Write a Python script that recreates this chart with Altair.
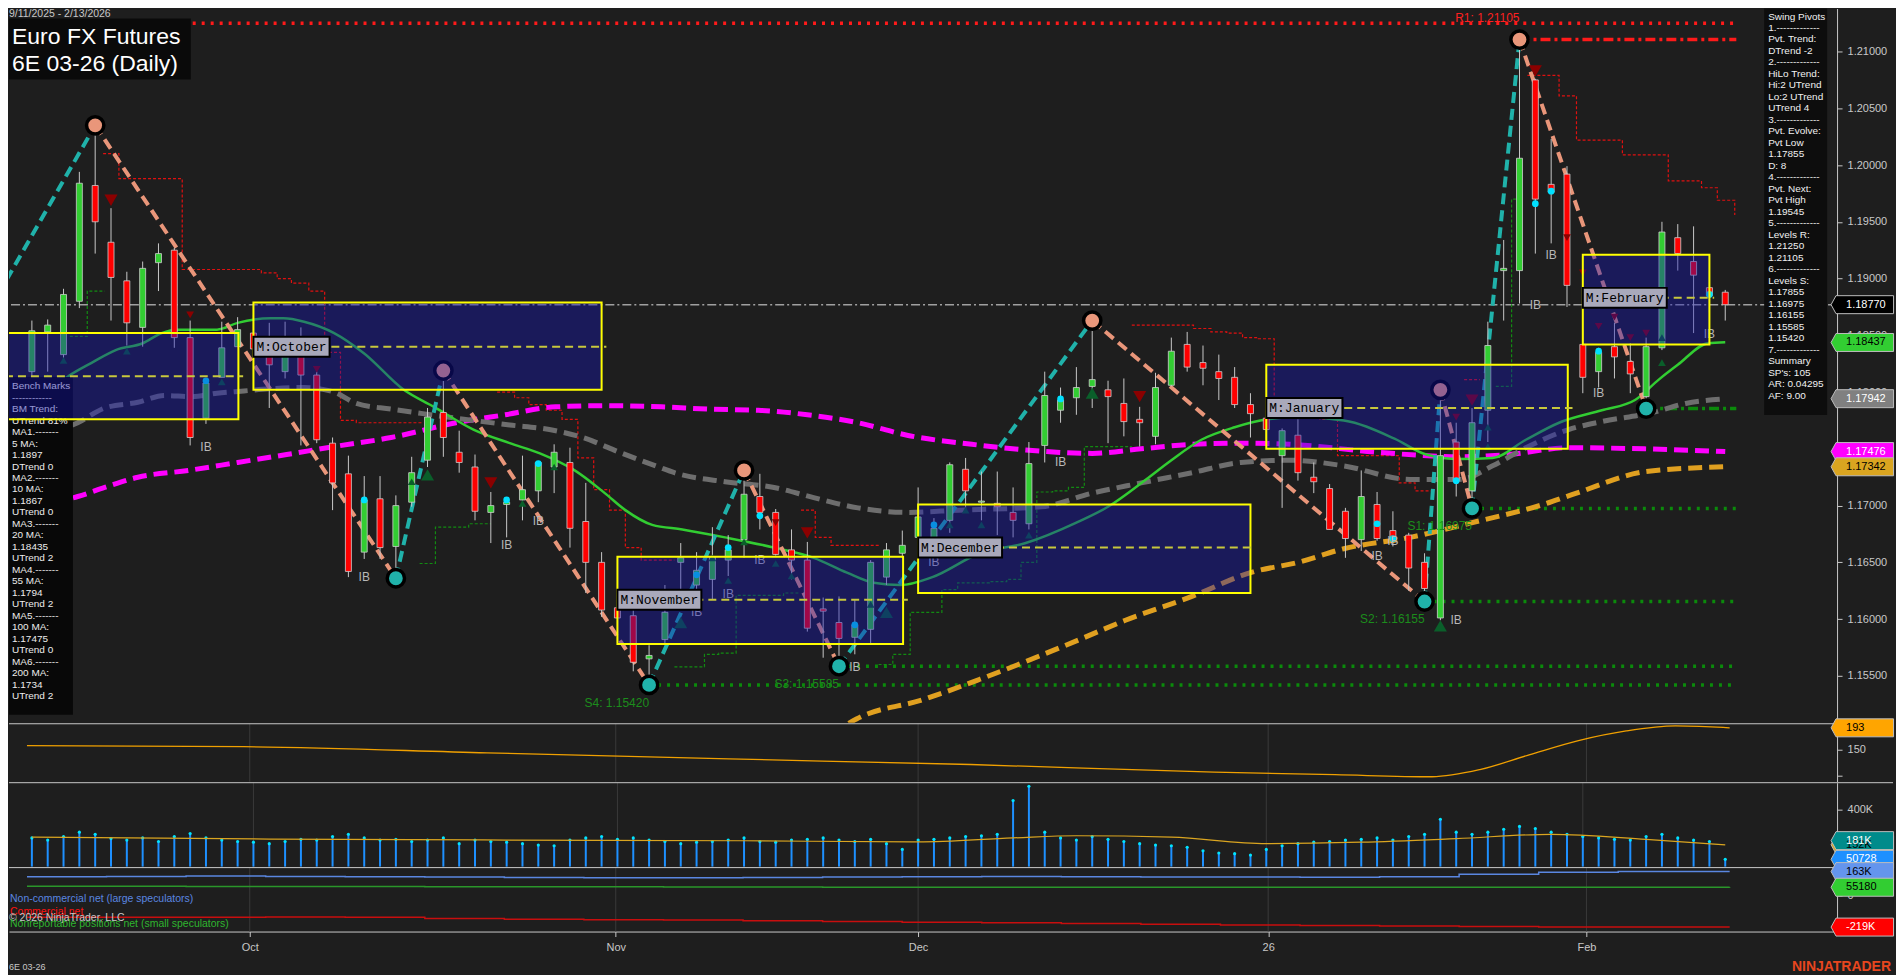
import altair as alt
import pandas as pd

FONT = "Liberation Sans"
BG = "#1e1e1e"

# ---------------- daily candles, 9/11/2025 .. 2/13/2026 ----------------
OPEN = [1.1818,1.1853,1.1833,1.1880,1.1982,1.1932,1.1898,1.1857,1.1914,1.1925,
        1.1848,1.1777,1.1813,1.1840,1.1852,1.1835,1.1818,1.1833,1.1815,1.1755,
        1.1728,1.1659,1.1706,1.1664,1.1703,1.1740,1.1782,1.1747,1.1734,1.1694,
        1.1701,1.1705,1.1713,1.1734,1.1738,1.1686,1.1650,1.1610,1.1603,1.1565,
        1.1582,1.1650,1.1630,1.1635,1.1652,1.1670,1.1708,1.1694,1.1661,1.1652,
        1.1609,1.1597,1.1584,1.1591,1.1637,1.1658,1.1672,1.1670,1.1687,1.1732,
        1.1703,1.1702,1.1694,1.1684,1.1753,1.1784,1.1795,1.1805,1.1802,1.1790,
        1.1776,1.1761,1.1806,1.1842,1.1826,1.1818,1.1813,1.1789,1.1777,1.1744,
        1.1762,1.1725,1.1715,1.1695,1.1670,1.1701,1.1678,1.1674,1.1650,1.1601,
        1.1756,1.1713,1.1784,1.1907,1.1907,1.2075,1.1983,1.1992,1.1842,1.1818,
        1.1840,1.1827,1.1796,1.1839,1.1936,1.1915,1.1892,1.1888]
HIGH = [1.1863,1.1864,1.1891,1.1994,1.2035,1.1962,1.1906,1.1915,1.1931,1.1927,
        1.1863,1.1811,1.1862,1.1866,1.1868,1.1861,1.1862,1.1857,1.1818,1.1760,
        1.1744,1.1726,1.1726,1.1709,1.1743,1.1786,1.1819,1.1766,1.1745,1.1712,
        1.1707,1.1744,1.1738,1.1754,1.1751,1.1720,1.1659,1.1622,1.1617,1.1577,
        1.1630,1.1667,1.1659,1.1681,1.1674,1.1731,1.1728,1.1697,1.1679,1.1668,
        1.1619,1.1620,1.1617,1.1652,1.1667,1.1678,1.1716,1.1689,1.1738,1.1742,
        1.1730,1.1730,1.1716,1.1756,1.1818,1.1804,1.1822,1.1863,1.1810,1.1812,
        1.1787,1.1817,1.1848,1.1853,1.1841,1.1833,1.1822,1.1799,1.1784,1.1768,
        1.1776,1.1738,1.1719,1.1698,1.1731,1.1712,1.1695,1.1676,1.1658,1.1802,
        1.1773,1.1786,1.1862,1.1934,1.21105,1.2076,1.2023,1.1999,1.1855,1.1839,
        1.1861,1.1843,1.1848,1.1950,1.1948,1.1946,1.1907,1.1890]
LOW = [1.1813,1.1818,1.1826,1.1874,1.1922,1.1863,1.1841,1.1840,1.1889,1.1839,
       1.1753,1.1772,1.1813,1.1840,1.1830,1.1786,1.1812,1.1753,1.1755,1.1696,
       1.1637,1.1653,1.1653,1.1636,1.1699,1.1734,1.1743,1.1729,1.1687,1.1667,
       1.1672,1.1687,1.1703,1.1711,1.1663,1.1623,1.1602,1.1580,1.1554,1.1542,
       1.1579,1.1620,1.1617,1.1617,1.1638,1.1654,1.1679,1.1656,1.1635,1.1589,
       1.1566,1.15585,1.1569,1.1579,1.1630,1.1654,1.1664,1.1658,1.1676,1.1694,
       1.1687,1.1674,1.1672,1.1679,1.1738,1.1773,1.1780,1.1786,1.1755,1.1761,
       1.1752,1.1754,1.1805,1.1818,1.1806,1.1793,1.1786,1.1760,1.1758,1.1698,
       1.1722,1.1711,1.1679,1.1654,1.1660,1.1669,1.1664,1.1625,1.16155,1.1599,
       1.1708,1.16975,1.1756,1.1863,1.1878,1.1922,1.1931,1.1875,1.1799,1.1804,
       1.1812,1.1799,1.17855,1.1837,1.1907,1.1852,1.1870,1.1863]
CLOSE = [1.1854,1.1859,1.1886,1.1984,1.1950,1.1901,1.1861,1.1909,1.1922,1.1848,
         1.1760,1.1808,1.1839,1.1855,1.1838,1.1824,1.1833,1.1815,1.1758,1.1720,
         1.1642,1.1705,1.1663,1.1700,1.1729,1.1778,1.1760,1.1738,1.1695,1.1700,
         1.1703,1.1714,1.1738,1.1747,1.1680,1.1650,1.1608,1.1601,1.1562,1.1568,
         1.1606,1.1654,1.1643,1.1655,1.1661,1.1710,1.1694,1.1657,1.1652,1.1592,
         1.1607,1.1583,1.1595,1.1650,1.1661,1.1665,1.1690,1.1680,1.1736,1.1713,
         1.1704,1.1699,1.1687,1.1737,1.1797,1.1793,1.1804,1.1811,1.1796,1.1774,
         1.1773,1.1804,1.1836,1.1822,1.1821,1.1812,1.1789,1.1781,1.1767,1.1766,
         1.1729,1.1721,1.1679,1.1671,1.1708,1.1671,1.1671,1.1645,1.1627,1.1744,
         1.1722,1.1773,1.1841,1.1909,1.2006,1.1970,1.1976,1.1894,1.1813,1.1835,
         1.1831,1.1816,1.1840,1.1941,1.1922,1.1903,1.1885,1.1877]

MONTH_TICKS = [14, 37, 56, 78, 98]
MONTH_LABELS = ["Oct", "Nov", "Dec", "26", "Feb"]

# ---------------- moving averages (read at sample bars) ----------------
MA20_I = [0,1,2.3,3.8,5.3,7.0,8.2,9.2,11.7,13.0,15.1,15.9,17.2,19.1,21.0,23.5,25.4,27.9,30.2,32.1,34.3,36.2,
          37.5,39.2,41.1,43.8,46.9,49.4,51.5,53.2,54.9,56.9,59.9,62.8,66.0,68.0,70.4,72.0,73.9,76.0,78.1,80.0,
          82.9,86.1,88.1,90.2,92.3,94.4,96.5,99.2,101.3,102.8,104.0,105.9,107.0]
MA20_P = [1.1790,1.1800,1.1814,1.1826,1.1837,1.1843,1.1852,1.1855,1.1855,1.1861,1.1865,1.1865,1.1862,1.1852,1.1834,
          1.1802,1.1787,1.1767,1.1755,1.1746,1.1731,1.1711,1.1696,1.1683,1.1679,1.1672,1.1663,1.1654,1.1641,1.1632,
          1.1630,1.1637,1.1658,1.1667,1.1685,1.1699,1.1723,1.1740,1.1758,1.1769,1.1776,1.1778,1.1775,1.1759,1.1745,
          1.1741,1.1742,1.1758,1.1773,1.1784,1.1793,1.1811,1.1824,1.1843,1.1844]
MA55_I = [0,2.9,4.6,6.7,8.4,10.1,11.7,13.4,15.1,17.2,19.1,20.5,22.7,24.7,27.9,30.2,32.7,34.8,37.3,39.6,40.6,43.8,
          46.9,49.4,52.2,55.3,58.6,63.8,67.0,70.1,73.3,76.4,79.5,82.9,87.1,90.2,92.3,94.4,97.1,99.2,102.4,104.5,107.0]
MA55_P = [1.1760,1.1773,1.1786,1.1791,1.1797,1.1796,1.1799,1.1801,1.1803,1.1804,1.1800,1.1790,1.1785,1.1781,1.1775,
          1.1771,1.1767,1.1760,1.1746,1.1734,1.1729,1.1721,1.1716,1.1707,1.1698,1.1694,1.1696,1.1699,1.1711,1.1720,
          1.1729,1.1738,1.1740,1.1735,1.1723,1.1723,1.1735,1.1751,1.1767,1.1774,1.1782,1.1790,1.1794]
MA100_I = [0,2.9,4.6,6.7,9.9,13.0,16.1,19.1,22.7,26.8,29.9,33.1,36.2,39.8,42.7,45.9,49.0,52.2,55.3,59.4,62.8,67.0,
           70.1,73.3,76.4,79.5,85.0,90.2,93.3,97.1,101.9,107.0]
MA100_P = [1.1700,1.1708,1.1716,1.1725,1.1731,1.1738,1.1745,1.1752,1.1760,1.1773,1.1780,1.1787,1.1788,1.1787,1.1785,
           1.1784,1.1780,1.1773,1.1762,1.1754,1.1749,1.1746,1.1750,1.1754,1.1755,1.1754,1.1747,1.1743,1.1745,1.1751,
           1.1750,1.17476]
MA200_I = [50.5,52.1,56.3,59.9,66.2,69.1,73.3,77.0,80.0,82.9,87.1,91.3,95.5,97.6,102.0,107.0]
MA200_P = [1.1498,1.1512,1.1529,1.1547,1.1582,1.1599,1.1620,1.1641,1.1650,1.1662,1.1672,1.1686,1.1701,1.1711,1.1730,1.17342]

# ---------------- swing pivots ----------------
PIVOT_I = [-1.6, 4, 23, 26, 39, 45, 51, 67, 88, 89, 91, 94, 102]
PIVOT_P = [1.1899, 1.2035, 1.1636, 1.1819, 1.1542, 1.1731, 1.15585, 1.1863, 1.16155, 1.1802, 1.16975, 1.21105, 1.17855]

LEVEL_P = [1.2125, 1.21105, 1.17855, 1.16975, 1.16155, 1.15585, 1.15420]
LEVEL_FROM = [-1.2, 94, 102, 91, 88, 51, 39]
LEVEL_KIND = ["Rdot", "Rdash", "Sdash", "Sdot", "Sdot", "Sdot", "Sdot"]
S_LABEL = ["S1: 1.16975", "S2: 1.16155", "S3: 1.15585", "S4: 1.15420"]
S_LABEL_I = [91, 88, 51, 39]
S_LABEL_P = [1.16975, 1.16155, 1.15585, 1.15420]
LAST_PRICE = 1.1877

RED_TRAIL_SEG = [0]*11 + [1]*11 + [2]*4 + [3]*12 + [4]*2 + [5]*8
RED_TRAIL_I = [4.5,5.5,9.5,14.5,15.5,16.4,17.5,18.5,19.5,20.5,24.7,
               29.4,30.5,31.4,32.5,33.5,34.5,35.5,36.5,37.5,38.5,40.6,
               48.6,49.5,50.5,53.6,
               69.5,73.4,74.5,75.5,76.5,77.5,78.5,81.4,82.5,86.4,87.4,88.4,
               90.5,91.5,
               94.5,96.5,97.6,100.5,103.4,105.5,106.5,107.6]
RED_TRAIL_P = [1.2010,1.1988,1.1908,1.1905,1.1900,1.1896,1.1889,1.1835,1.1775,1.1773,1.1773,
               1.1800,1.1795,1.1789,1.1784,1.1776,1.1742,1.1714,1.1696,1.1663,1.1652,1.1652,
               1.1696,1.1672,1.1665,1.1665,
               1.1859,1.1856,1.1853,1.1852,1.1848,1.1847,1.1790,1.1776,1.1744,1.1720,1.1713,1.1713,
               1.1811,1.1811,
               1.2079,1.2061,1.2022,1.2009,1.1986,1.1980,1.1969,1.1956]
GREEN_TRAIL_SEG = [0]*3 + [1]*5 + [2]*7 + [3]*13 + [4]*3
GREEN_TRAIL_I = [2.4,3.5,4.6,
                 24.5,25.5,26.5,27.6,29.0,
                 40.6,42.5,43.4,44.5,45.4,47.5,48.5,
                 53.5,54.4,55.5,57.5,58.5,60.5,61.6,62.5,63.5,64.5,65.5,66.5,69.5,
                 92.5,93.5,94.1]
GREEN_TRAIL_P = [1.1849,1.1889,1.1889,
                 1.1649,1.1681,1.1681,1.1684,1.1684,
                 1.1558,1.1569,1.1570,1.1621,1.1621,1.1623,1.1623,
                 1.1560,1.1569,1.1606,1.1626,1.1632,1.1633,1.1635,1.1650,1.1712,1.1713,1.1716,1.1752,1.1752,
                 1.1805,1.1970,1.1970]

TRI_DN_I = [5,10,18,29,47,49,70,89,90,91,95,97,98,99,100,101,102]
TRI_DN_P = [1.1969,1.1868,1.1820,1.1720,1.1685,1.1676,1.1796,1.1805,1.1778,1.1793,1.2083,1.1936,1.1905,1.1858,1.1866,1.1848,1.1852]
TRI_DN_BIG = [1,0,0,1,0,1,1,0,0,1,1,0,0,0,0,0,0]
TRI_UP_I = [1,2,6,12,24,25,31,33,41,43,44,45,47,48,53,54,58,59,60,63,67,89,92,92,103,103]
TRI_UP_P = [1.1813,1.1828,1.1836,1.1809,1.1721,1.1727,1.1702,1.1734,1.1597,1.1654,1.1634,1.1668,1.1649,
            1.1638,1.1613,1.1606,1.1683,1.1696,1.1683,1.1674,1.1799,1.1594,1.1769,1.1752,1.1848,1.1826]
TRI_UP_BIG = [0,0,0,0,0,1,0,0,1,0,0,0,0,0,0,1,0,0,0,0,1,1,0,0,0,0]
IB_I = [11,21,30,32,42,44,46,52,57,65,85,86,90,95,96,99,106]
IB_P = [1.1752,1.1637,1.1665,1.1686,1.1606,1.1622,1.1652,1.1558,1.1650,1.1738,1.1656,1.1669,1.1599,1.1877,1.1921,1.1799,1.1851]
CYAN_I = [11,21,30,32,42,44,46,52,57,65,85,86,90,95,96,99,106]
CYAN_P = [1.1810,1.1705,1.1705,1.1737,1.1639,1.1663,1.1691,1.1595,1.1683,1.1794,1.1684,1.1671,1.1722,1.1966,1.1977,1.1836,1.1886]

# monthly range boxes
BOX_NAME = ["", "M:October", "M:November", "M:December", "M:January", "M:February"]
BOX_START = [-1.7, 14, 37, 56, 78, 98]
BOX_END = [13.05, 36, 55.05, 77, 97.05, 106]
BOX_HI = [1.1852, 1.1879, 1.1655, 1.1701, 1.1824, 1.1921]
BOX_LO = [1.1776, 1.1802, 1.1578, 1.1623, 1.1750, 1.1842]
BOX_MID = [1.1814, 1.1840, 1.1617, 1.1663, 1.1786, 1.1883]

BENCH_LINES = ["Bench Marks", "------------", "BM Trend:", "UTrend 81%", "MA1.-------", "5 MA:", "1.1897",
               "DTrend 0", "MA2.-------", "10 MA:", "1.1867", "UTrend 0", "MA3.-------", "20 MA:", "1.18435",
               "UTrend 2", "MA4.-------", "55 MA:", "1.1794", "UTrend 2", "MA5.-------", "100 MA:", "1.17475",
               "UTrend 0", "MA6.-------", "200 MA:", "1.1734", "UTrend 2"]
SWING_LINES = ["Swing Pivots", "1.-------------", "Pvt. Trend:", "DTrend -2", "2.-------------", "HiLo Trend:",
               "Hi:2 UTrend", "Lo:2 UTrend", "UTrend 4", "3.-------------", "Pvt. Evolve:", "Pvt Low", "1.17855",
               "D: 8", "4.-------------", "Pvt. Next:", "Pvt High", "1.19545", "5.-------------", "Levels R:",
               "1.21250", "1.21105", "6.-------------", "Levels S:", "1.17855", "1.16975", "1.16155", "1.15585",
               "1.15420", "7.-------------", "Summary", "SP's: 105", "AR: 0.04295", "AF: 9.00"]

PRICE_TAG_V = [1.18770, 1.18437, 1.17942, 1.17476, 1.17342]
PRICE_TAG_T = ["1.18770", "1.18437", "1.17942", "1.17476", "1.17342"]
PRICE_TAG_BG = ["#000000", "#32cd32", "#808080", "#ff00ff", "#daa520"]
PRICE_TAG_FG = ["#ffffff", "#000000", "#ffffff", "#ffffff", "#000000"]

# ---------------- lower panels ----------------
OSC_I = [0, 13.6, 28.9, 44.1, 59.3, 74.6, 82.2, 88.3, 91.3, 94.4, 97.5, 100.5, 103.6, 106.6, 107]
OSC_V = [158, 156, 144, 132, 121, 106, 101, 97, 111, 140, 168, 187, 197, 194, 193]

VOLUME_K = [200,185,210,240,225,195,185,200,175,210,230,200,185,175,
            170,160,175,190,185,210,225,200,185,190,175,185,200,160,185,175,170,160,150,145,185,200,210,
            190,200,185,175,160,170,175,185,200,175,170,185,190,200,185,175,190,160,120,
            185,190,200,210,215,225,460,560,240,200,185,210,190,175,160,150,145,135,110,95,90,80,
            120,145,160,170,175,185,190,200,185,210,225,330,240,225,240,260,280,265,240,225,
            210,200,190,185,210,225,200,185,175,50.728]
VMA_I = [0, 15, 30, 45, 56, 62, 66, 72, 78, 84, 90, 96, 102, 107]
VMA_K = [205, 192, 185, 180, 172, 200, 215, 205, 160, 170, 195, 225, 190, 152]

COT_I = [0,5,10,15,20,25,30,35,40,45,50,55,60,65,70,75,80,85,90,95,100,107]
COT_NONCOMM_K = [128,130,132,130,127,125,122,120,120,122,125,128,130,128,126,125,124,128,145,158,163,163]
COT_NONREP_K = [62,62,61,60,60,59,58,58,57,57,56,56,56,55,55,55,55,55,55,55,55,55.18]
COT_COMM_K = [-151,-151,-152,-150,-152,-160,-165,-168,-170,-175,-180,-185,-190,-195,-200,-205,-208,-212,-215,-218,-219,-219]

# ======================================================================
W = 1830
H1, H2, H3, H4 = 715, 58, 84, 64
XS = alt.Scale(domain=[-1.13, 113.75], nice=False, zero=False)
AXC = "#c8c8c8"


def X(f="i"):
    return alt.X(f + ":Q", scale=XS, axis=None)


PSC = alt.Scale(domain=[1.15087, 1.21379], nice=False, zero=False)
PAX = alt.Axis(orient="right", values=[round(1.155 + 0.005 * k, 3) for k in range(12)], format=".5f",
               domainColor=AXC, tickColor=AXC, labelColor=AXC, labelFont=FONT, labelFontSize=11,
               tickSize=5, labelPadding=5, grid=False, title=None, labelOverlap=False)


def PY(f):
    return alt.Y(f + ":Q", scale=PSC, axis=PAX)


def one():
    return pd.DataFrame({"k": [0]})


TAG_PATH = "M0,0L0.55,-1L6.95,-1L6.95,1L0.55,1Z"


def tag_layers(df, yenc):
    pt = alt.Chart(df).mark_point(shape=TAG_PATH, size=324, filled=True, opacity=1, stroke="#bdbdbd",
                                  strokeWidth=1).encode(x=alt.value(1824), y=yenc, fill=alt.Fill("bg:N", scale=None))
    tx = alt.Chart(df).mark_text(align="left", baseline="middle", font=FONT, fontSize=11).encode(
        x=alt.value(1839), y=yenc, text="t:N", color=alt.Color("fg:N", scale=None))
    return [pt, tx]


# ---------------- price panel ----------------
N = len(OPEN)
cdf = pd.DataFrame({"i": list(range(N)), "o": OPEN, "h": HIGH, "l": LOW, "c": CLOSE})

lev = pd.DataFrame({"p": LEVEL_P, "s": LEVEL_FROM, "kind": LEVEL_KIND})
lev["e"] = 107.7
lev_layers = []
styles = {"Rdot": ("#ff1a1a", [3, 6]), "Rdash": ("#ff1a1a", [10, 4, 3, 4]),
          "Sdot": ("#0b8a0b", [3, 6]), "Sdash": ("#0b8a0b", [10, 4, 3, 4])}
for kind, (col, dash) in styles.items():
    lev_layers.append(alt.Chart(lev[lev.kind == kind]).mark_rule(color=col, strokeDash=dash, strokeWidth=3.5,
                                                                  clip=True).encode(x=X("s"), x2="e", y=PY("p")))
last_line = alt.Chart(pd.DataFrame({"p": [LAST_PRICE]})).mark_rule(
    color="#a0a0a0", strokeDash=[9, 3, 2, 3], strokeWidth=1.5).encode(y=PY("p"))

rt = pd.DataFrame({"seg": RED_TRAIL_SEG, "i": RED_TRAIL_I, "p": RED_TRAIL_P})
red_trail = alt.Chart(rt).mark_line(interpolate="step-after", color="#e01010", strokeDash=[3, 2],
                                    strokeWidth=1.2, clip=True).encode(x=X(), y=PY("p"), detail="seg:N")
gt = pd.DataFrame({"seg": GREEN_TRAIL_SEG, "i": GREEN_TRAIL_I, "p": GREEN_TRAIL_P})
green_trail = alt.Chart(gt).mark_line(interpolate="step-after", color="#128a12", strokeDash=[3, 2],
                                      strokeWidth=1.2, clip=True).encode(x=X(), y=PY("p"), detail="seg:N")


def ma(iv, pv, color, width, dash=None):
    d = pd.DataFrame({"i": iv, "p": pv})
    kw = dict(color=color, strokeWidth=width, interpolate="monotone", clip=True)
    if dash:
        kw["strokeDash"] = dash
    return alt.Chart(d).mark_line(**kw).encode(x=X(), y=PY("p"))


ma200 = ma(MA200_I, MA200_P, "#e0a020", 5, [14, 7])
ma100 = ma(MA100_I, MA100_P, "#ff00ff", 5, [14, 7])
ma55 = ma(MA55_I, MA55_P, "#6e6e6e", 5, [14, 7])
ma20 = ma(MA20_I, MA20_P, "#32cd32", 2.5)

zz_rows = []
for k in range(len(PIVOT_I) - 1):
    col = "#20b2aa" if PIVOT_P[k + 1] > PIVOT_P[k] else "#e9967a"
    zz_rows.append({"seg": k, "i": PIVOT_I[k], "p": PIVOT_P[k], "col": col})
    zz_rows.append({"seg": k, "i": PIVOT_I[k + 1], "p": PIVOT_P[k + 1], "col": col})
zz = alt.Chart(pd.DataFrame(zz_rows)).mark_line(strokeDash=[11, 6], strokeWidth=4, clip=True).encode(
    x=X(), y=PY("p"), detail="seg:N", color=alt.Color("col:N", scale=None))

wick = alt.Chart(cdf).mark_rule(color="#c8c8c8", strokeWidth=1).encode(x=X(), y=PY("l"), y2="h")
body = alt.Chart(cdf).mark_bar(size=6, stroke="#cfcfcf", strokeWidth=0.8).encode(
    x=X(), y=PY("o"), y2="c",
    color=alt.condition("datum.c >= datum.o", alt.value("#32cd32"), alt.value("#ff0000")))

tdn = pd.DataFrame({"i": TRI_DN_I, "p": TRI_DN_P, "b": TRI_DN_BIG})
tdn["sz"] = tdn.b * 110 + 60
tri_dn = alt.Chart(tdn).mark_point(shape="triangle-down", filled=True, opacity=1, color="#8b0000").encode(
    x=X(), y=PY("p"), size=alt.Size("sz:Q", scale=None))
tup = pd.DataFrame({"i": TRI_UP_I, "p": TRI_UP_P, "b": TRI_UP_BIG})
tup["sz"] = tup.b * 110 + 60
tri_up = alt.Chart(tup).mark_point(shape="triangle-up", filled=True, opacity=1, color="#0a5f2a").encode(
    x=X(), y=PY("p"), size=alt.Size("sz:Q", scale=None))
cyan = alt.Chart(pd.DataFrame({"i": CYAN_I, "p": CYAN_P})).mark_circle(size=45, color="#00e0ff", opacity=1).encode(
    x=X(), y=PY("p"))
ib = alt.Chart(pd.DataFrame({"i": IB_I, "p": IB_P})).mark_text(
    text="IB", font=FONT, fontSize=12, color="#b8b8b8", baseline="middle").encode(x=X(), y=PY("p"))

pv = pd.DataFrame({"i": PIVOT_I[1:], "p": PIVOT_P[1:]})
pv["col"] = ["#e9967a" if k % 2 == 1 else "#20b2aa" for k in range(1, len(PIVOT_I))]
pivots = alt.Chart(pv).mark_point(shape="circle", filled=True, opacity=1, size=300, stroke="#000000",
                                  strokeWidth=3.5).encode(x=X(), y=PY("p"), fill=alt.Fill("col:N", scale=None))

bench_rect = alt.Chart(one()).mark_rect(color="#080808").encode(
    x=alt.value(0), x2=alt.value(64), y=alt.value(369), y2=alt.value(707))
bench_text = alt.Chart(one()).mark_text(align="left", baseline="top", font=FONT, fontSize=10, lineHeight=11.5,
                                        color="#ececec").encode(
    x=alt.value(3), y=alt.value(373), text=alt.value(BENCH_LINES))

bx = pd.DataFrame({"name": BOX_NAME, "s": BOX_START, "e": BOX_END, "hi": BOX_HI, "lo": BOX_LO, "mid": BOX_MID})
bx["e2"] = bx.e + 0.3
bx["el"] = bx.s + (bx.name.str.len() * 7.85 + 6) / 15.93
box_fill = alt.Chart(bx).mark_rect(color="#1414b4", opacity=0.4, clip=True).encode(
    x=X("s"), x2="e", y=PY("hi"), y2="lo")
box_border = alt.Chart(bx).mark_rect(fillOpacity=0, stroke="#ffff00", strokeWidth=2, clip=True).encode(
    x=X("s"), x2="e", y=PY("hi"), y2="lo")
box_mid = alt.Chart(bx).mark_rule(color="#c8c83c", strokeDash=[8, 5], strokeWidth=2, clip=True).encode(
    x=X("s"), x2="e2", y=PY("mid"))
bl = bx[bx.name != ""]
box_lab_rect = alt.Chart(bl).mark_rect(color="#a9a9bb", stroke="#000000", strokeWidth=2, yOffset=-10,
                                       y2Offset=10).encode(x=X("s"), x2="el", y=PY("mid"), y2="mid")
box_lab_text = alt.Chart(bl).mark_text(align="left", baseline="middle", font="Liberation Mono", fontSize=13,
                                       color="#000000", dx=3).encode(x=X("s"), y=PY("mid"), text="name:N")

sl = pd.DataFrame({"t": S_LABEL, "i": S_LABEL_I, "p": S_LABEL_P})
s_labels = alt.Chart(sl).mark_text(align="right", baseline="middle", font=FONT, fontSize=12, color="#1c8c1c",
                                   dy=18).encode(x=X(), y=PY("p"), text="t:N")
r_label = alt.Chart(pd.DataFrame({"t": ["R1: 1.21105"], "i": [94], "p": [1.21105]})).mark_text(
    align="right", baseline="middle", font=FONT, fontSize=12, color="#ff2020", dy=-22).encode(
    x=X(), y=PY("p"), text="t:N")

title_rect = alt.Chart(one()).mark_rect(color="#0a0a0a").encode(
    x=alt.value(0), x2=alt.value(182), y=alt.value(10), y2=alt.value(71))
title1 = alt.Chart(one()).mark_text(align="left", baseline="alphabetic", font=FONT, fontSize=23,
                                    color="#ffffff").encode(x=alt.value(3), y=alt.value(36),
                                                            text=alt.value("Euro FX Futures"))
title2 = alt.Chart(one()).mark_text(align="left", baseline="alphabetic", font=FONT, fontSize=23,
                                    color="#ffffff").encode(x=alt.value(3), y=alt.value(62.5),
                                                            text=alt.value("6E 03-26 (Daily)"))
date_text = alt.Chart(one()).mark_text(align="left", baseline="middle", font=FONT, fontSize=10.5,
                                       color="#c8c8c8").encode(x=alt.value(0), y=alt.value(5),
                                                               text=alt.value("9/11/2025 - 2/13/2026"))
swing_rect = alt.Chart(one()).mark_rect(color="#0d0d0d").encode(
    x=alt.value(1757), x2=alt.value(1820), y=alt.value(0), y2=alt.value(407))
swing_text = alt.Chart(one()).mark_text(align="left", baseline="top", font=FONT, fontSize=10, lineHeight=11.5,
                                        color="#f0f0f0").encode(
    x=alt.value(1761), y=alt.value(3), text=alt.value(SWING_LINES))

ptag = pd.DataFrame({"v": PRICE_TAG_V, "t": PRICE_TAG_T, "bg": PRICE_TAG_BG, "fg": PRICE_TAG_FG})

price = alt.layer(
    *lev_layers, last_line, red_trail, green_trail, ma200, ma100, ma55, ma20, zz, wick, body,
    tri_dn, tri_up, cyan, ib, pivots, bench_rect, bench_text, box_fill, box_border, box_mid,
    box_lab_rect, box_lab_text, s_labels, r_label, title_rect, title1, title2, date_text,
    swing_rect, swing_text, *tag_layers(ptag, PY("v"))
).properties(width=W, height=H1)


# ---------------- helpers for lower panels ----------------
def grid_rules(h):
    return alt.Chart(pd.DataFrame({"i": MONTH_TICKS})).mark_rule(color="#3a3a3a", strokeWidth=1).encode(
        x=X(), y=alt.value(0), y2=alt.value(h))


def sep(right):
    return alt.Chart(one()).mark_rule(color="#c8c8c8", strokeWidth=1).encode(
        x=alt.value(0), x2=alt.value(right), y=alt.value(0))


# panel 2 : oscillator
OSC_SC = alt.Scale(domain=[87.3, 201], nice=False, zero=False)
OSC_AX = alt.Axis(orient="right", values=[100, 150], labelExpr="datum.value == 150 ? '150' : ''",
                  domainColor=AXC, tickColor=AXC, labelColor=AXC, labelFont=FONT, labelFontSize=11,
                  tickSize=5, labelPadding=5, grid=False, title=None)


def OY(f):
    return alt.Y(f + ":Q", scale=OSC_SC, axis=OSC_AX)


osc = alt.Chart(pd.DataFrame({"i": OSC_I, "v": OSC_V})).mark_line(
    color="#f0a000", strokeWidth=1.3, interpolate="monotone").encode(x=X(), y=OY("v"))
otag = pd.DataFrame({"v": [193], "t": ["193"], "bg": ["#ffa500"], "fg": ["#000000"]})
panel2 = alt.layer(grid_rules(H2), osc, sep(W), *tag_layers(otag, OY("v"))).properties(width=W, height=H2)

# panel 3 : volume
VSC = alt.Scale(domain=[0, 584600], nice=False, zero=False)
VAX = alt.Axis(orient="right", values=[400000], labelExpr="'400K'", domainColor=AXC, tickColor=AXC,
               labelColor=AXC, labelFont=FONT, labelFontSize=11, tickSize=5, labelPadding=5, grid=False,
               title=None)


def VY(f):
    return alt.Y(f + ":Q", scale=VSC, axis=VAX)


vdf = pd.DataFrame({"i": list(range(N)), "v": [k * 1000 for k in VOLUME_K]})
vbars = alt.Chart(vdf).mark_bar(size=2, color="#1e90ff").encode(x=X(), y=VY("v"), y2=alt.datum(0))
vdots = alt.Chart(vdf).mark_circle(size=10, color="#00e5ff", opacity=1).encode(x=X(), y=VY("v"))
vma = alt.Chart(pd.DataFrame({"i": VMA_I, "v": [k * 1000 for k in VMA_K]})).mark_line(
    color="#daa520", strokeWidth=1.2, interpolate="monotone").encode(x=X(), y=VY("v"))
vtag = pd.DataFrame({"v": [152000, 181000, 50728], "t": ["152K", "181K", "50728"],
                     "bg": ["#daa520", "#008b8b", "#1e90ff"], "fg": ["#000000", "#ffffff", "#ffffff"]})
panel3 = alt.layer(grid_rules(H3), vbars, vdots, vma, sep(1886), *tag_layers(vtag, VY("v"))).properties(
    width=W, height=H3)

# panel 4 : COT
CSC = alt.Scale(domain=[-249700, 190500], nice=False, zero=False)
CAX = alt.Axis(orient="right", values=[0], labelExpr="'0'", domainColor=AXC, tickColor=AXC, labelColor=AXC,
               labelFont=FONT, labelFontSize=11, tickSize=5, labelPadding=5, grid=False, title=None)
XAX = alt.Axis(values=MONTH_TICKS,
               labelExpr="datum.value==14?'Oct':datum.value==37?'Nov':datum.value==56?'Dec':datum.value==78?'26':'Feb'",
               domainColor=AXC, tickColor=AXC, labelColor=AXC, labelFont=FONT, labelFontSize=11, tickSize=5,
               labelPadding=5, grid=False, title=None)


def XB(f="i"):
    return alt.X(f + ":Q", scale=XS, axis=XAX)


def CY(f):
    return alt.Y(f + ":Q", scale=CSC, axis=CAX)


cot_rows = []
for name, vals, col in [("nc", COT_NONCOMM_K, "#5a86e0"), ("nr", COT_NONREP_K, "#2a962a"),
                        ("cm", COT_COMM_K, "#c80e0e")]:
    for i, v in zip(COT_I, vals):
        cot_rows.append({"s": name, "i": i, "v": v * 1000, "col": col})
cot = alt.Chart(pd.DataFrame(cot_rows)).mark_line(strokeWidth=1.5, interpolate="step-after").encode(
    x=XB(), y=CY("v"), detail="s:N", color=alt.Color("col:N", scale=None))
grid4 = alt.Chart(pd.DataFrame({"i": MONTH_TICKS})).mark_rule(color="#3a3a3a", strokeWidth=1).encode(
    x=XB(), y=alt.value(0), y2=alt.value(H4))
leg_rows = pd.DataFrame({
    "t": ["Non-commercial net (large speculators)", "Commercial net",
          "Nonreportable positions net (small speculators)", "\u00a9 2026 NinjaTrader, LLC"],
    "y": [31, 44, 56, 50], "x": [1, 1, 1, 0],
    "col": ["#5a86e0", "#ff1010", "#2eb52e", "#c8c8c8"]})
legend_txt = [alt.Chart(leg_rows.iloc[[k]]).mark_text(align="left", baseline="middle", font=FONT,
                                                      fontSize=10.5, color=leg_rows.col[k]).encode(
    x=alt.value(float(leg_rows.x[k])), y=alt.value(float(leg_rows.y[k])), text="t:N") for k in [0, 1, 3, 2]]
foot1 = alt.Chart(one()).mark_text(align="left", baseline="middle", font=FONT, fontSize=9,
                                   color="#c8c8c8").encode(x=alt.value(0), y=alt.value(100),
                                                           text=alt.value("6E 03-26"))
foot2 = alt.Chart(one()).mark_text(align="right", baseline="middle", font=FONT, fontSize=14, fontWeight="bold",
                                   color="#e8461e").encode(x=alt.value(1884), y=alt.value(100),
                                                           text=alt.value("NINJATRADER"))
ctag = pd.DataFrame({"v": [163000, 55180, -219000], "t": ["163K", "55180", "-219K"],
                     "bg": ["#6495ed", "#32cd32", "#ff0000"], "fg": ["#000000", "#000000", "#ffffff"]})
panel4 = alt.layer(grid4, cot, sep(1886), *legend_txt, foot1, foot2, *tag_layers(ctag, CY("v"))).properties(
    width=W, height=H4)

chart = alt.vconcat(price, panel2, panel3, panel4, spacing=1, bounds="flush").resolve_scale(
    x="independent", y="independent").properties(
    padding={"left": 0, "top": 0, "right": 0, "bottom": 0}, background=BG
).configure_view(strokeWidth=0)

chart.save("out.html", embed_options={"renderer": "svg", "actions": False})
